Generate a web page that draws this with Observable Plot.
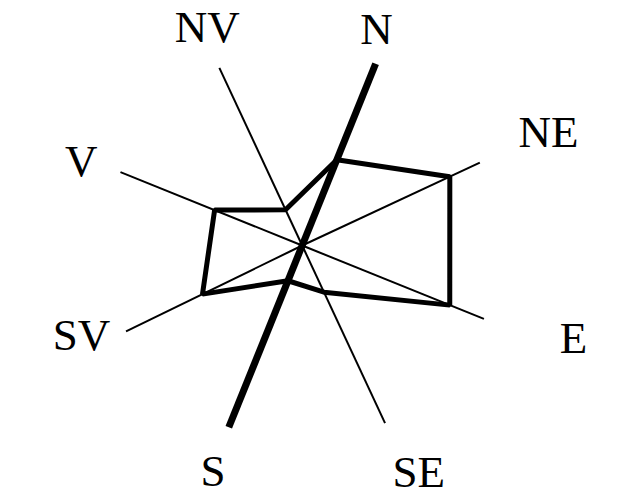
<!DOCTYPE html>
<html><head><meta charset="utf-8">
<script src="https://cdn.jsdelivr.net/npm/d3@7"></script>
<script src="https://cdn.jsdelivr.net/npm/@observablehq/plot@0.6"></script>
<style>html,body{margin:0;padding:0;background:#fff}</style>
</head><body><div id="chart"></div>
<script>
// Data
const directions = ["N", "NE", "E", "SE", "S", "SV", "V", "NV"];
const bearings = [22, 65, 112, 155, 202, 244, 292, 335]; // degrees clockwise from up
const values = [47.2, 83.1, 81.2, 26.3, 19.4, 56.6, 48.2, 20.1];
const axisMax = 100;

// Layout: where each label sits (distance in value units, bearing in degrees)
const labelLayout = {
  N: [116.5, 19.0], NE: [138.2, 65.4], E: [146.4, 109.0], SE: [130, 152.8],
  S: [124, 201.5], SV: [121.5, 247.9], V: [120.6, 290.8], NV: [121.1, 336.4]
};

const rad = d => d * Math.PI / 180;
const rows = directions.map((dir, i) => ({
  dir, bearing: bearings[i], value: values[i]
}));
const px = (r, b) => r * Math.sin(rad(b));
const py = (r, b) => r * Math.cos(rad(b));

const W = 623, H = 503, unit = 1.96, cx = 301.7, cy = 245;

const chart = Plot.plot({
  width: W, height: H,
  margin: 0,
  x: {domain: [-cx / unit, (W - cx) / unit], range: [0, W], axis: null},
  y: {domain: [-(H - cy) / unit, cy / unit], range: [H, 0], axis: null},
  marks: [
    Plot.link(rows.filter(d => d.dir !== "N" && d.dir !== "S"), {
      x1: 0, y1: 0,
      x2: d => px(axisMax, d.bearing), y2: d => py(axisMax, d.bearing),
      stroke: "black", strokeWidth: 2
    }),
    Plot.link(rows.filter(d => d.dir === "N" || d.dir === "S"), {
      x1: 0, y1: 0,
      x2: d => px(axisMax, d.bearing), y2: d => py(axisMax, d.bearing),
      stroke: "black", strokeWidth: 7
    }),
    Plot.line(rows, {
      x: d => px(d.value, d.bearing), y: d => py(d.value, d.bearing),
      curve: "linear-closed", stroke: "black", strokeWidth: 5,
      strokeLinejoin: "miter"
    }),
    Plot.text(rows, {
      x: d => px(labelLayout[d.dir][0], labelLayout[d.dir][1]),
      y: d => py(labelLayout[d.dir][0], labelLayout[d.dir][1]),
      text: "dir", fontSize: 45, fontFamily: "Liberation Serif",
      textAnchor: "middle", lineAnchor: "middle", fill: "black"
    })
  ]
});
document.getElementById("chart").appendChild(chart);
</script>
</body></html>
